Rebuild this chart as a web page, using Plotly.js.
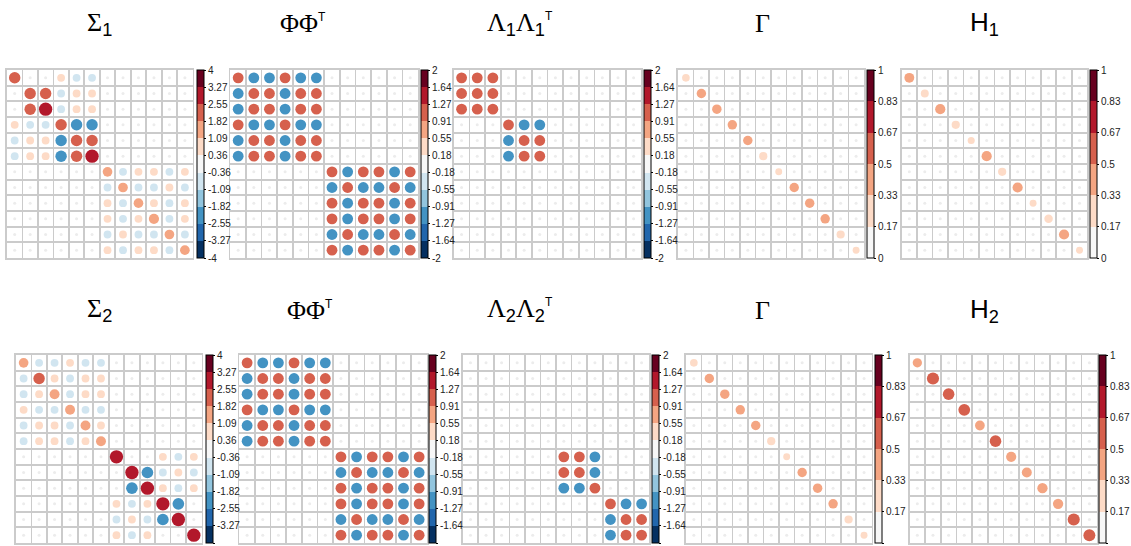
<!DOCTYPE html>
<html><head><meta charset="utf-8">
<script src="https://cdn.plot.ly/plotly-3.0.1.min.js"></script>
<style>html,body{margin:0;padding:0;background:#fff;}#chart{width:1131px;height:546px;}</style>
</head><body><div id="chart"></div>
<script>
// ---------------- data ----------------
const sigma1 = [
 [ 2.3, 0,   0,   1.0,-1.0,-1.0, 0,0,0,0,0,0],
 [ 0,   2.3, 2.3,-1.0, 1.0, 1.0, 0,0,0,0,0,0],
 [ 0,   2.3, 3.2,-1.0, 1.0, 1.0, 0,0,0,0,0,0],
 [ 1.0,-1.0,-1.0, 2.3,-2.3,-2.3, 0,0,0,0,0,0],
 [-1.0, 1.0, 1.0,-2.3, 2.3, 2.3, 0,0,0,0,0,0],
 [-1.0, 1.0, 1.0,-2.3, 2.3, 3.2, 0,0,0,0,0,0],
 [0,0,0,0,0,0,  1.6,-1.0, 1.0, 1.0,-1.0, 1.0],
 [0,0,0,0,0,0, -1.0, 1.6,-1.0,-1.0, 1.0,-1.0],
 [0,0,0,0,0,0,  1.0,-1.0, 1.6, 1.0,-1.0, 1.0],
 [0,0,0,0,0,0,  1.0,-1.0, 1.0, 1.8,-1.0, 1.0],
 [0,0,0,0,0,0, -1.0, 1.0,-1.0,-1.0, 1.6,-1.0],
 [0,0,0,0,0,0,  1.0,-1.0, 1.0, 1.0,-1.0, 1.6]
];
const phiPhiT1 = [
 [ 1,-1,-1, 1,-1,-1, 0,0,0,0,0,0],
 [-1, 1, 1,-1, 1, 1, 0,0,0,0,0,0],
 [-1, 1, 1,-1, 1, 1, 0,0,0,0,0,0],
 [ 1,-1,-1, 1,-1,-1, 0,0,0,0,0,0],
 [-1, 1, 1,-1, 1, 1, 0,0,0,0,0,0],
 [-1, 1, 1,-1, 1, 1, 0,0,0,0,0,0],
 [0,0,0,0,0,0,  1,-1, 1, 1,-1, 1],
 [0,0,0,0,0,0, -1, 1,-1,-1, 1,-1],
 [0,0,0,0,0,0,  1,-1, 1, 1,-1, 1],
 [0,0,0,0,0,0,  1,-1, 1, 1,-1, 1],
 [0,0,0,0,0,0, -1, 1,-1,-1, 1,-1],
 [0,0,0,0,0,0,  1,-1, 1, 1,-1, 1]
];
const lambda1 = [
 [1, 1, 1, 0, 0, 0, 0,0,0,0,0,0],
 [1, 1, 1, 0, 0, 0, 0,0,0,0,0,0],
 [1, 1, 1, 0, 0, 0, 0,0,0,0,0,0],
 [0, 0, 0, 1,-1,-1, 0,0,0,0,0,0],
 [0, 0, 0,-1, 1, 1, 0,0,0,0,0,0],
 [0, 0, 0,-1, 1, 1, 0,0,0,0,0,0],
 [0,0,0,0,0,0, 0,0,0,0,0,0],
 [0,0,0,0,0,0, 0,0,0,0,0,0],
 [0,0,0,0,0,0, 0,0,0,0,0,0],
 [0,0,0,0,0,0, 0,0,0,0,0,0],
 [0,0,0,0,0,0, 0,0,0,0,0,0],
 [0,0,0,0,0,0, 0,0,0,0,0,0]
];
const gamma1Diag = [0.24, 0.38, 0.38, 0.38, 0.38, 0.28, 0.19, 0.38, 0.38, 0.38, 0.28, 0.19];
const eta1Diag   = [0.42, 0.26, 0.45, 0.28, 0.20, 0.45, 0.28, 0.45, 0.19, 0.30, 0.45, 0.19];

const sigma2 = [
 [ 1.6,-1.0,-1.0, 1.0,-1.0,-1.0, 0,0,0,0,0,0],
 [-1.0, 2.3, 1.0,-1.0, 1.0, 1.0, 0,0,0,0,0,0],
 [-1.0, 1.0, 1.7,-1.0, 1.0, 1.0, 0,0,0,0,0,0],
 [ 1.0,-1.0,-1.0, 1.7,-1.0,-1.0, 0,0,0,0,0,0],
 [-1.0, 1.0, 1.0,-1.0, 1.7, 1.0, 0,0,0,0,0,0],
 [-1.0, 1.0, 1.0,-1.0, 1.0, 1.7, 0,0,0,0,0,0],
 [0,0,0,0,0,0,  3.2, 0,   0,   1.0,-1.0, 1.0],
 [0,0,0,0,0,0,  0,   3.2,-2.4,-1.0, 1.0,-1.0],
 [0,0,0,0,0,0,  0,  -2.4, 3.2, 1.0,-1.0, 1.0],
 [0,0,0,0,0,0,  1.0,-1.0, 1.0, 3.2,-2.4, 0  ],
 [0,0,0,0,0,0, -1.0, 1.0,-1.0,-2.4, 3.2, 0  ],
 [0,0,0,0,0,0,  1.0,-1.0, 1.0, 0,   0,   3.2]
];
const phiPhiT2 = [
 [ 1,-1,-1, 1,-1,-1, 0,0,0,0,0,0],
 [-1, 1, 1,-1, 1, 1, 0,0,0,0,0,0],
 [-1, 1, 1,-1, 1, 1, 0,0,0,0,0,0],
 [ 1,-1,-1, 1,-1,-1, 0,0,0,0,0,0],
 [-1, 1, 1,-1, 1, 1, 0,0,0,0,0,0],
 [-1, 1, 1,-1, 1, 1, 0,0,0,0,0,0],
 [0,0,0,0,0,0,  1,-1, 1, 1,-1, 1],
 [0,0,0,0,0,0, -1, 1,-1,-1, 1,-1],
 [0,0,0,0,0,0,  1,-1, 1, 1,-1, 1],
 [0,0,0,0,0,0,  1,-1, 1, 1,-1, 1],
 [0,0,0,0,0,0, -1, 1,-1,-1, 1,-1],
 [0,0,0,0,0,0,  1,-1, 1, 1,-1, 1]
];
const lambda2 = [
 [0,0,0,0,0,0, 0,0,0,0,0,0],
 [0,0,0,0,0,0, 0,0,0,0,0,0],
 [0,0,0,0,0,0, 0,0,0,0,0,0],
 [0,0,0,0,0,0, 0,0,0,0,0,0],
 [0,0,0,0,0,0, 0,0,0,0,0,0],
 [0,0,0,0,0,0, 0,0,0,0,0,0],
 [0,0,0,0,0,0,  1, 1,-1, 0, 0, 0],
 [0,0,0,0,0,0,  1, 1,-1, 0, 0, 0],
 [0,0,0,0,0,0, -1,-1, 1, 0, 0, 0],
 [0,0,0,0,0,0,  0, 0, 0, 1,-1,-1],
 [0,0,0,0,0,0,  0, 0, 0,-1, 1, 1],
 [0,0,0,0,0,0,  0, 0, 0,-1, 1, 1]
];
const gamma2Diag = [0.24, 0.38, 0.38, 0.38, 0.38, 0.28, 0.19, 0.38, 0.38, 0.38, 0.28, 0.19];
const eta2Diag   = [0.36, 0.64, 0.58, 0.60, 0.40, 0.58, 0.44, 0.42, 0.45, 0.45, 0.64, 0.62];

// colour-bar tick labels
const ticks4 = ['-4','-3.27','-2.55','-1.82','-1.09','-0.36','0.36','1.09','1.82','2.55','3.27','4'];
const ticks2 = ['-2','-1.64','-1.27','-0.91','-0.55','-0.18','0.18','0.55','0.91','1.27','1.64','2'];
const ticks1 = ['0','0.17','0.33','0.5','0.67','0.83','1'];

// ---------------- styling ----------------
const palRdBu = ['#053061','#2166AC','#4393C3','#92C5DE','#D1E5F0','#F7F7F7','#FDDBC7','#F4A582','#D6604D','#B2182B','#67001F'];
const palReds = ['#F7F7F7','#FDDBC7','#F4A582','#D6604D','#B2182B','#67001F'];
function stepScale(p){const s=[];p.forEach((c,i)=>{s.push([i/p.length,c]);s.push([(i+1)/p.length,c]);});return s;}
function diagMatrix(d){return d.map((v,i)=>d.map((_,j)=>i===j?v:0));}

const W=1131,H=546;
const SERIF="'Liberation Serif', 'DejaVu Serif', serif";
const S=(t)=>'<span style="font-family:'+SERIF+'">'+t+'</span>';
const T='<sup><span style="font-size:12px">T</span></sup>';
const panels = [
 {m:sigma1,   lim:[-4,4], pal:palRdBu, ticks:ticks4, box:[7,194,70,258],    cb:198,  title:S('Σ')+'<sub>1</sub>', tx:100, ty:24},
 {m:phiPhiT1, lim:[-2,2], pal:palRdBu, ticks:ticks2, box:[232,421,70,258],  cb:424,  title:S('ΦΦ')+T, tx:305, ty:24},
 {m:lambda1,  lim:[-2,2], pal:palRdBu, ticks:ticks2, box:[457,646,70,258],  cb:649,  title:S('Λ')+'<sub>1</sub>'+S('Λ')+'<sub>1</sub>'+T, tx:524, ty:24},
 {m:diagMatrix(gamma1Diag), lim:[0,1], pal:palReds, ticks:ticks1, box:[683,870,70,258], cb:873, title:S('Γ'), tx:768, ty:24},
 {m:diagMatrix(eta1Diag),   lim:[0,1], pal:palReds, ticks:ticks1, box:[908,1095,70,258], cb:1098, title:'H<sub>1</sub>', tx:992, ty:24},
 {m:sigma2,   lim:[-4,4], pal:palRdBu, ticks:ticks4, box:[16,203,355,543],  cb:207,  title:S('Σ')+'<sub>2</sub>', tx:100, ty:310},
 {m:phiPhiT2, lim:[-2,2], pal:palRdBu, ticks:ticks2, box:[241,430,355,543], cb:432,  title:S('ΦΦ')+T, tx:312, ty:310},
 {m:lambda2,  lim:[-2,2], pal:palRdBu, ticks:ticks2, box:[466,654,355,543], cb:657,  title:S('Λ')+'<sub>2</sub>'+S('Λ')+'<sub>2</sub>'+T, tx:524, ty:310},
 {m:diagMatrix(gamma2Diag), lim:[0,1], pal:palReds, ticks:ticks1, box:[691,878,355,543], cb:881, title:S('Γ'), tx:768, ty:310},
 {m:diagMatrix(eta2Diag),   lim:[0,1], pal:palReds, ticks:ticks1, box:[916,1105,355,543], cb:1107, title:'H<sub>2</sub>', tx:992, ty:310}
];

const traces=[], annotations=[];
const layout={width:W,height:H,margin:{l:0,r:0,t:0,b:0},paper_bgcolor:'#fff',plot_bgcolor:'#fff',
  showlegend:false,hovermode:false,font:{family:"'Liberation Sans', Arial, sans-serif",color:'#000'}};
const gridC='#cbcbcb';
panels.forEach((p,k)=>{
  const ax=k===0?'':String(k+1);
  const [x0,x1,y0,y1]=p.box;
  const n=p.m.length;
  const cell=(x1-x0)/n;
  const grid=[];for(let i=0;i<=n;i++)grid.push(i+0.5);
  layout['xaxis'+ax]={domain:[x0/W,x1/W],range:[0.5,n+0.5],anchor:'y'+ax,tickvals:grid,showticklabels:false,ticks:'',
    showgrid:true,gridcolor:gridC,gridwidth:1.7,zeroline:false,showline:true,mirror:true,linecolor:gridC,linewidth:1.7,fixedrange:true};
  layout['yaxis'+ax]={domain:[1-y1/H,1-y0/H],range:[n+0.5,0.5],anchor:'x'+ax,tickvals:grid,showticklabels:false,ticks:'',
    showgrid:true,gridcolor:gridC,gridwidth:1.7,zeroline:false,showline:true,mirror:true,linecolor:gridC,linewidth:1.7,fixedrange:true};
  const span=Math.max(Math.abs(p.lim[0]),Math.abs(p.lim[1]));
  const xs=[],ys=[],cs=[],ss=[],zx=[],zy=[];
  p.m.forEach((row,i)=>row.forEach((v,j)=>{
    if(v===0){zx.push(j+1);zy.push(i+1);}
    else{xs.push(j+1);ys.push(i+1);cs.push(v);ss.push(cell*0.9*Math.sqrt(Math.abs(v)/span)+0.8);}
  }));
  traces.push({type:'scatter',mode:'markers',x:zx,y:zy,xaxis:'x'+ax,yaxis:'y'+ax,
    marker:{size:3,color:'#ececec',opacity:1,line:{width:0}},hoverinfo:'skip'});
  const nt=p.ticks.length;
  const tv=p.ticks.map((_,i)=>p.lim[0]+i*(p.lim[1]-p.lim[0])/(nt-1));
  traces.push({type:'scatter',mode:'markers',x:xs,y:ys,xaxis:'x'+ax,yaxis:'y'+ax,hoverinfo:'skip',
    marker:{size:ss,color:cs,opacity:1,cmin:p.lim[0],cmax:p.lim[1],colorscale:stepScale(p.pal),line:{width:0},showscale:true,
      colorbar:{x:p.cb/W,xanchor:'left',xref:'paper',y:1-y0/H,yanchor:'top',yref:'paper',len:y1-y0,lenmode:'pixels',
        thickness:7,thicknessmode:'pixels',outlinewidth:1,outlinecolor:'#000',xpad:0,ypad:0,
        tickvals:tv,ticktext:p.ticks,ticks:'outside',ticklen:2,tickwidth:1,tickcolor:'#000',
        tickfont:{size:10,color:'#222',family:"'Liberation Sans', Arial, sans-serif"}}}});
  annotations.push({xref:'paper',yref:'paper',x:p.tx/W,y:1-p.ty/H,xanchor:'center',yanchor:'middle',showarrow:false,
    text:p.title,font:{size:26,color:'#000',family:"'Liberation Sans', Arial, sans-serif"}});
});
layout.annotations=annotations;
Plotly.newPlot('chart',traces,layout,{staticPlot:true,displayModeBar:false});
</script></body></html>
